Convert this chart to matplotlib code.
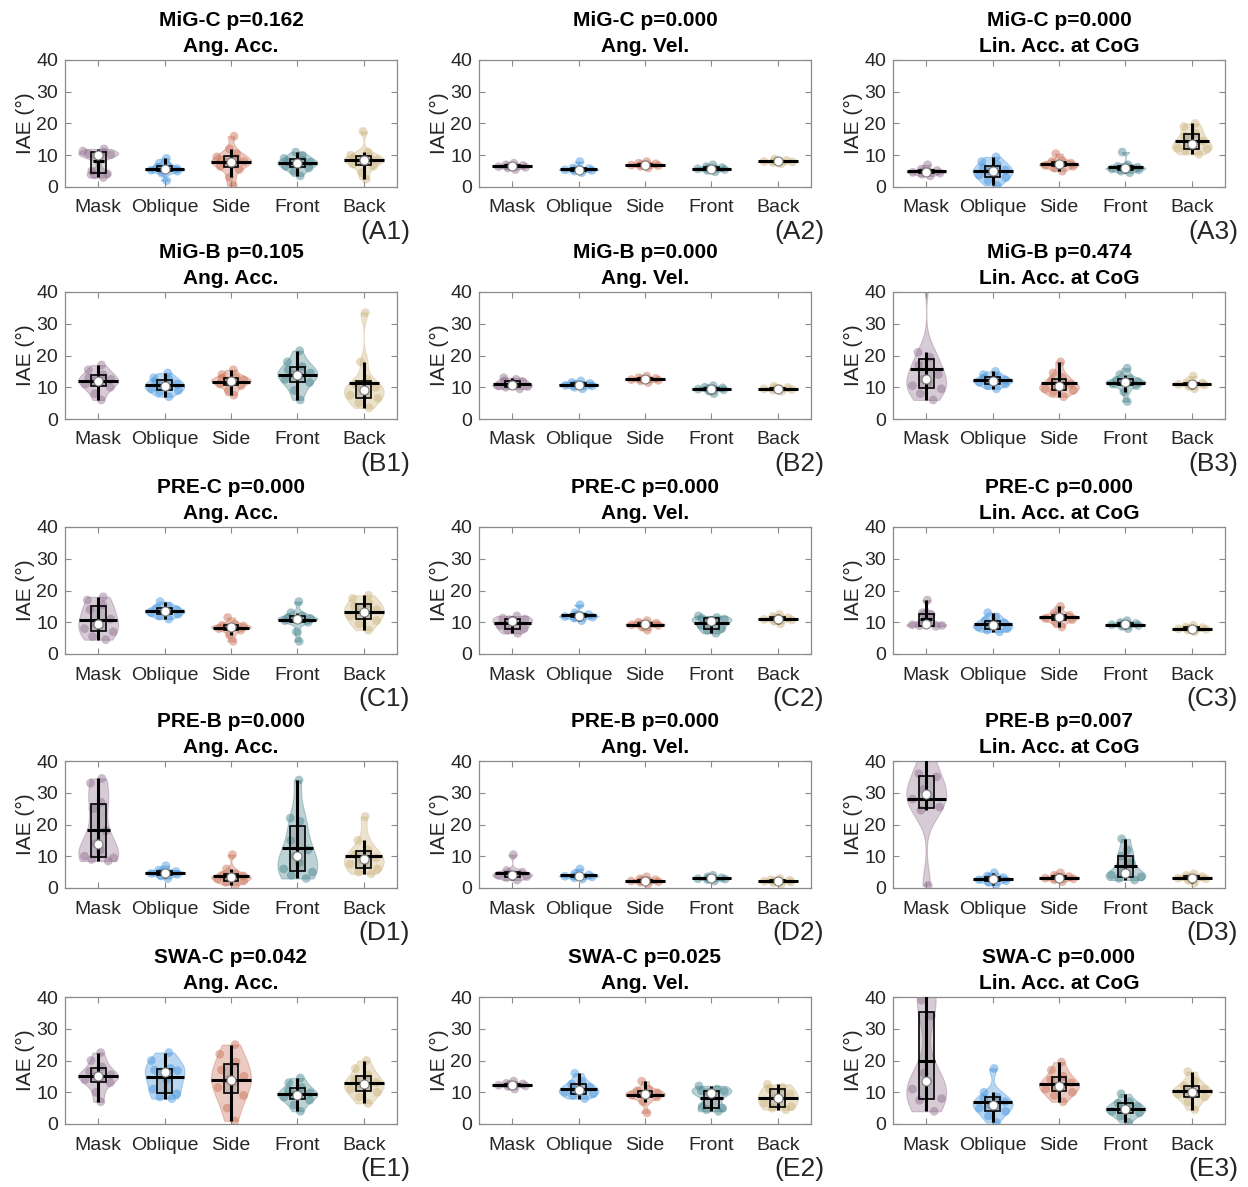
import numpy as np
import matplotlib
matplotlib.use('Agg')
import matplotlib.pyplot as plt
from matplotlib.patches import Rectangle

plt.rcParams['font.family'] = ['Liberation Sans', 'DejaVu Sans']

W, H = 1248, 1187

categories = ['Mask', 'Oblique', 'Side', 'Front', 'Back']
colors = ['#8d6b8b', '#3a8fdc', '#c66a4f', '#3f7f88', '#c9b078']
row_names = ['MiG-C', 'MiG-B', 'PRE-C', 'PRE-B', 'SWA-C']
row_letters = ['A', 'B', 'C', 'D', 'E']
col_names = ['Ang. Acc.', 'Ang. Vel.', 'Lin. Acc. at CoG']
p_values = [[0.162, 0.000, 0.000],
            [0.105, 0.000, 0.474],
            [0.000, 0.000, 0.000],
            [0.000, 0.000, 0.007],
            [0.042, 0.025, 0.000]]
yticks = [0, 10, 20, 30, 40]

# IAE samples (deg) per panel: Mask, Oblique, Side, Front, Back
A1 = [[3, 3.8, 4.2, 5, 9.5, 10, 10.2, 10.5, 11, 11.3, 12],
      [2, 4.3, 5, 5.3, 5.5, 5.6, 5.8, 6.2, 6.8, 7.5, 9],
      [0.5, 3, 5.5, 6.5, 7, 7.8, 8, 8.5, 9, 9.5, 10.5, 12, 16],
      [3.5, 5, 6, 6.5, 7, 7.5, 7.8, 8, 8.5, 9, 10, 11],
      [2.5, 4.5, 6.5, 7.2, 8, 8.3, 8.5, 9, 9.5, 10, 11, 17.5]]
A2 = [[5.5, 6, 6.2, 6.4, 6.5, 6.6, 6.8, 7, 7.5],
      [4.5, 5, 5.2, 5.4, 5.5, 5.6, 5.8, 6, 8],
      [6, 6.5, 6.7, 6.9, 7, 7.1, 7.3, 7.5, 8],
      [4.8, 5.2, 5.5, 5.7, 5.8, 5.9, 6.1, 6.4, 7],
      [7.3, 7.7, 7.9, 8, 8.1, 8.2, 8.4, 8.8]]
A3 = [[3.5, 4, 4.4, 4.6, 4.8, 5, 5.2, 5.6, 7],
      [0.5, 2, 3, 3.8, 4.5, 5, 5.3, 6, 7, 8, 9.5],
      [5, 6, 6.5, 6.8, 7, 7.2, 7.5, 8, 8.5, 10.5],
      [4.5, 5, 5.4, 5.7, 5.9, 6, 6.2, 6.5, 7, 11],
      [10.3, 11.5, 12, 12.3, 12.8, 13.5, 14.5, 16, 17, 19, 20]]
B1 = [[6, 8, 10, 11, 11.5, 12, 12.5, 13, 14, 15.5, 17],
      [7, 8.5, 9, 9.5, 10, 10.5, 11, 11.5, 12.5, 13, 14.5],
      [7.5, 9, 10.5, 11, 11.5, 12, 12.3, 12.8, 13, 14, 15.5],
      [6, 9, 11.5, 12.5, 13.5, 14, 14.5, 15.5, 16.5, 18, 21.5],
      [3.5, 5, 6.5, 7.5, 8.5, 9, 10, 11, 12.5, 18, 33.5]]
B2 = [[9.5, 10, 10.2, 10.4, 10.5, 11, 11.8, 12, 12.5, 13],
      [9.5, 10, 10.4, 10.6, 10.8, 11, 11.2, 11.5, 12],
      [11.5, 12, 12.2, 12.4, 12.5, 12.6, 12.8, 13, 13.5],
      [8, 8.8, 9.2, 9.4, 9.5, 9.6, 9.8, 10, 10.5],
      [8.7, 9.1, 9.3, 9.5, 9.6, 9.7, 9.9, 10.3]]
B3 = [[6, 8, 9.5, 10.5, 11.5, 12.5, 14, 17, 19.5, 21, 45],
      [9.5, 10.5, 11, 11.5, 12, 12, 12.3, 12.8, 13.2, 14, 15],
      [7, 8.5, 9, 9.5, 10, 10.5, 11, 12, 13, 14.5, 18],
      [5.5, 8.5, 10.5, 11, 11.3, 11.5, 11.8, 12.2, 12.7, 14, 16],
      [9.5, 10.3, 10.7, 10.9, 11, 11.1, 11.3, 11.6, 13.5]]
C1 = [[4.5, 5.5, 7, 8, 9, 9.5, 11, 14, 15.5, 17, 18],
      [11, 12, 12.5, 13, 13.3, 13.6, 14, 14.5, 15, 16.5],
      [4, 6, 7.5, 8, 8.3, 8.5, 8.8, 9, 9.5, 11.5],
      [4, 7, 10, 10.5, 10.8, 11, 11.2, 11.5, 12, 13, 16.5],
      [7.5, 9.5, 10.5, 12, 12.8, 13.2, 14, 15, 16, 17.5, 18.5]]
C2 = [[6.5, 7.5, 8, 9, 10.5, 10.8, 11, 11.3, 12],
      [10.5, 11.3, 11.6, 11.8, 12, 12.2, 12.4, 13, 15.5],
      [7.5, 8.5, 9, 9.2, 9.3, 9.5, 9.7, 10, 10.5],
      [6.5, 7.5, 8, 9, 10, 10.5, 11, 11.3, 11.5, 12],
      [9.5, 10.3, 10.7, 10.9, 11, 11.1, 11.4, 11.8, 12.5]]
C3 = [[8.7, 8.9, 9, 9.2, 9.5, 10.5, 12.5, 13, 17],
      [7, 7.5, 8, 8.5, 9, 9.3, 9.8, 10.5, 11.5, 13],
      [8.5, 10, 10.8, 11.2, 11.5, 11.8, 12.2, 13, 15],
      [8, 8.7, 9, 9.2, 9.3, 9.4, 9.6, 9.9, 10.5],
      [7, 7.5, 7.8, 7.9, 8, 8.1, 8.3, 8.5, 9]]
D1 = [[8.5, 9, 9.5, 10, 12, 14, 18, 25, 27, 33, 34.5],
      [3, 3.8, 4.3, 4.6, 4.8, 5, 5.2, 5.6, 7],
      [1, 1.8, 2.2, 2.8, 3.2, 3.5, 3.8, 4, 4.5, 6, 10.5],
      [3, 4, 5, 6, 8, 10, 12, 15, 21, 22, 34],
      [4.5, 5, 6, 7.5, 8.5, 9, 9.5, 10.5, 12, 15, 22.5]]
D2 = [[2.5, 3.3, 3.6, 4, 4.2, 4.5, 5, 5.5, 10.5],
      [2.8, 3.2, 3.5, 3.7, 3.8, 3.9, 4.1, 4.5, 6],
      [1.3, 1.8, 2, 2.2, 2.3, 2.4, 2.6, 2.9, 3.5],
      [2.2, 2.6, 2.8, 2.9, 3, 3.1, 3.2, 3.5, 4],
      [1.3, 1.7, 1.9, 2.1, 2.2, 2.3, 2.4, 2.6, 3]]
D3 = [[0.8, 24.5, 25.5, 28, 29.5, 31, 35, 36, 43],
      [1, 1.8, 2.3, 2.6, 2.8, 3, 3.3, 3.8, 4.8],
      [2, 2.6, 2.9, 3.1, 3.2, 3.3, 3.6, 4, 4.8],
      [2.5, 3, 3.5, 4, 4.5, 5, 8, 10, 12, 15.5],
      [1.5, 2.5, 2.9, 3.1, 3.2, 3.3, 3.6, 4, 4.5]]
E1 = [[7, 10, 13, 14, 14.5, 15, 15.5, 16.5, 18, 20, 22.5],
      [8, 8.5, 9.5, 11, 14, 16.5, 16.8, 17, 17.5, 20, 22.5],
      [1, 5, 9, 11.5, 13, 14, 15, 17, 19.5, 22, 25],
      [4, 6, 7.5, 8.5, 9, 9.2, 9.8, 10.5, 11.5, 13, 14.5],
      [6.5, 8.5, 10, 11, 12, 12.5, 13, 14, 15.5, 17.5, 20]]
E2 = [[11, 11.8, 12, 12.2, 12.3, 12.4, 12.6, 12.8, 13.5],
      [8, 9, 9.5, 10, 10.5, 11, 11.5, 12.5, 13.5, 16],
      [3.5, 7, 8.5, 9, 9.3, 9.5, 9.8, 10.5, 11, 13.5],
      [4, 4.5, 5, 5.5, 9.5, 10, 10.3, 10.5, 11, 12],
      [4.5, 5, 5.5, 6.5, 8, 8.5, 9.5, 11, 11.5, 12.5]]
E3 = [[4, 7.5, 8, 11, 13.5, 16, 34, 39, 45],
      [0.5, 2.5, 4, 5, 5.5, 6, 7, 8, 8.5, 10, 17.5],
      [7, 9, 10, 11, 12, 12, 13, 14, 15, 17, 19.5],
      [0.5, 2.5, 3.5, 4, 4.5, 4.8, 5.5, 6.5, 7, 9.5],
      [4.5, 7, 8.5, 9.5, 10, 10.3, 11, 12, 13.5, 16.5]]

panels = [[A1, A2, A3], [B1, B2, B3], [C1, C2, C3], [D1, D2, D3], [E1, E2, E3]]

# layout (pixels)
col_left = [65, 479, 893]
ax_w = 332
row_top = [60, 292, 527, 761, 997]
ax_h = 127

VIOLIN_W = 0.3
BOX_HW = 0.11
jitter_pattern = [0.55, -0.35, 0.8, -0.7, 0.1, -0.15, 0.65, -0.5, 0.3, -0.85, 0.45, -0.25, 0.9]
text_color = '#262626'
spine_color = '#8a8a8a'


def kde(data, grid):
    n = len(data)
    sig = np.median(np.abs(data - np.median(data))) / 0.6745
    if sig <= 0:
        sig = np.std(data)
    bw = sig * (4.0 / (3.0 * n)) ** 0.2
    d = np.exp(-0.5 * ((grid[:, None] - data[None, :]) / bw) ** 2).sum(1)
    return d / (n * bw * np.sqrt(2 * np.pi))


def draw_violin(ax, pos, values, color):
    data = np.asarray(values, float)
    grid = np.linspace(data.min(), data.max(), 200)
    dens = kde(data, grid)
    half = VIOLIN_W * dens / dens.max()
    ax.fill_betweenx(grid, pos - half, pos + half, facecolor=color, alpha=0.35,
                     edgecolor=color, linewidth=0.8, zorder=1)
    # scatter
    wpts = np.interp(data, grid, half)
    jit = np.array([jitter_pattern[i % len(jitter_pattern)] for i in range(len(data))])
    ax.scatter(pos + jit * wpts, data, s=40, color=color, alpha=0.45,
               edgecolors='none', zorder=2)
    q1, med, q3 = np.quantile(data, [0.25, 0.5, 0.75], method='hazen')
    iqr = q3 - q1
    lo_f, hi_f = q1 - 1.5 * iqr, q3 + 1.5 * iqr
    lo = max(lo_f, data[data >= lo_f].min())
    hi = min(hi_f, data[data <= hi_f].max())
    ax.add_patch(Rectangle((pos - BOX_HW, q1), 2 * BOX_HW, q3 - q1,
                           facecolor=(0.5, 0.5, 0.5, 0.3), edgecolor='black',
                           linewidth=1.2, zorder=3))
    ax.plot([pos, pos], [lo, hi], color='black', linewidth=2.2, zorder=4,
            solid_capstyle='butt')
    mean = data.mean()
    wm = np.interp(mean, grid, half)
    ax.plot([pos - wm, pos + wm], [mean, mean], color='black', linewidth=2.2,
            zorder=5, solid_capstyle='butt')
    ax.scatter([pos], [med], s=42, color='white', edgecolors='#808080',
               linewidths=0.8, zorder=6)


fig = plt.figure(figsize=(W / 100, H / 100), dpi=100)

for r in range(5):
    for c in range(3):
        left = col_left[c] / W
        bottom = 1 - (row_top[r] + ax_h) / H
        ax = fig.add_axes([left, bottom, ax_w / W, ax_h / H])
        data_sets = panels[r][c]
        for i, vals in enumerate(data_sets):
            draw_violin(ax, i + 1, vals, colors[i])
        ax.set_xlim(0.5, 5.5)
        ax.set_ylim(0, 40)
        ax.set_xticks(range(1, 6))
        ax.set_xticklabels(categories)
        ax.set_yticks(yticks)
        ax.tick_params(direction='in', top=True, right=True, length=4,
                       width=0.8, color=spine_color, labelcolor=text_color,
                       labelsize=14, pad=5)
        ax.tick_params(axis='x', pad=9)
        for s in ax.spines.values():
            s.set_color(spine_color)
            s.set_linewidth(0.9)
        ax.set_ylabel('IAE (°)', fontsize=15, color=text_color, labelpad=1)
        ax.set_title(f'{row_names[r]} p={p_values[r][c]:.3f}\n{col_names[c]}',
                     fontsize=15, fontweight='bold', color='black',
                     linespacing=1.45, pad=6)
        # panel label
        xr = (col_left[c] + ax_w + 13) / W
        yc = 1 - (row_top[r] + ax_h + 45) / H
        fig.text(xr, yc, f'({row_letters[r]}{c + 1})', ha='right', va='center',
                 fontsize=19, color=text_color)

fig.savefig('out.png', dpi=100, facecolor='white')
